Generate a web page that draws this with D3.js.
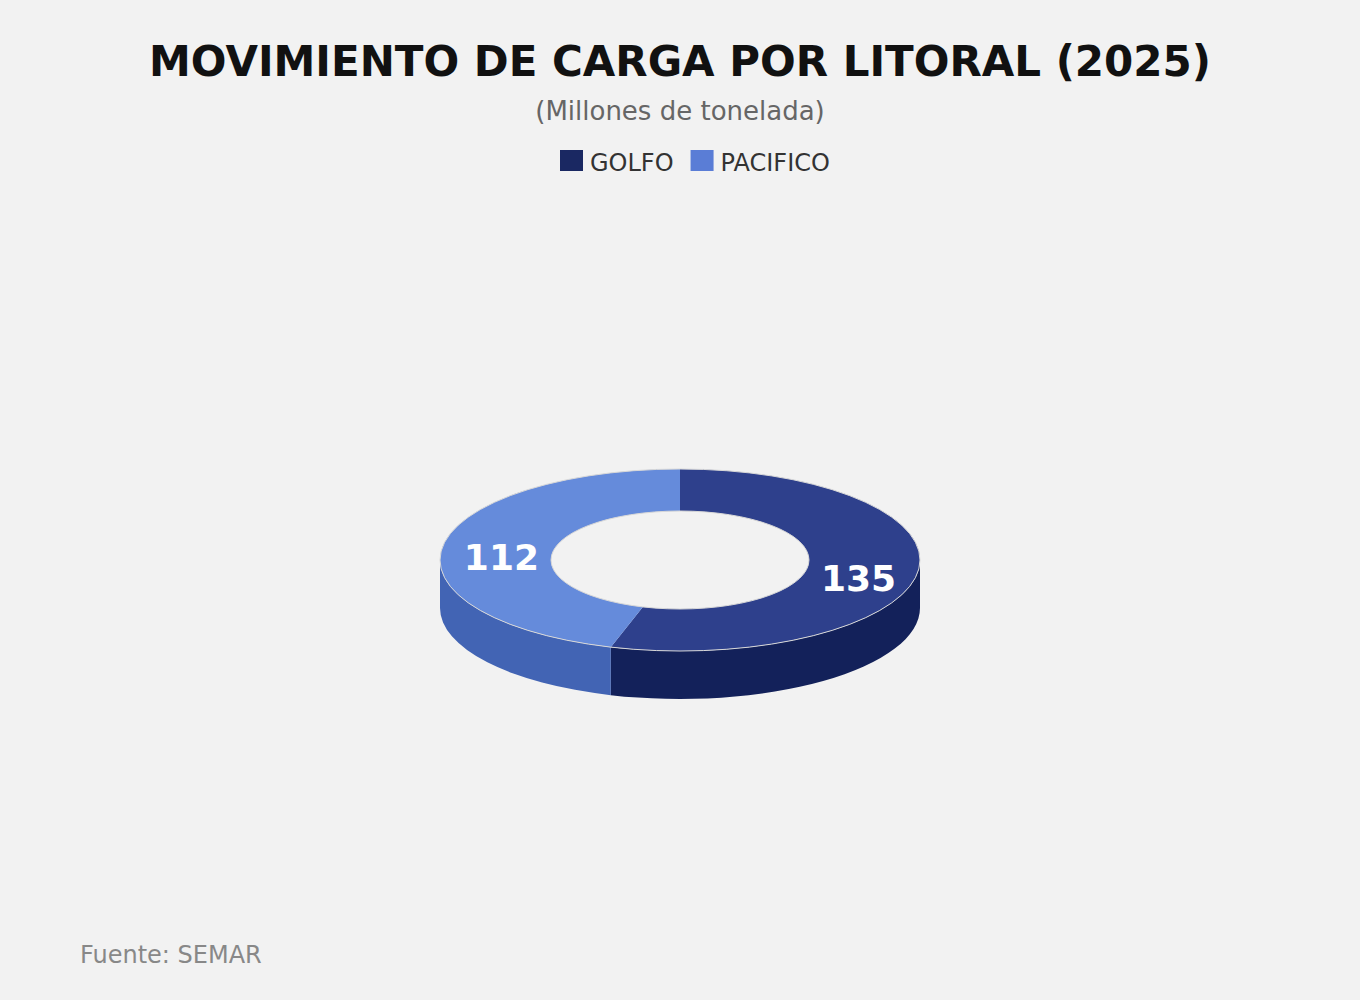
<!DOCTYPE html>
<html>
  <head>
    <meta charset="utf-8">
    <title>Movimiento de carga por litoral</title>
    <script src="https://d3js.org/d3.v7.min.js"></script>
    <style>
      body { margin: 0; background: #f2f2f2; }
      text { font-family: "DejaVu Sans", sans-serif; }
    </style>
  </head>
  <body>
    <div id="chart"></div>
    <script>
    // data
    var categories = ["GOLFO", "PACIFICO"]
    var values = [135, 112]
    var legendColors = ["#1a2862", "#5a7dd6"]
    var topColors = ["#2e408c", "#658bdb"]
    var sideColors = ["#13215a", "#4264b4"]

    var width = 1360, height = 1000
    var cx = 680, cy = 560
    var rx = 240, ry = 91      // outer ellipse of the top face
    var irx = 129, iry = 49    // inner hole
    var depth = 48

    var svg = d3.select("#chart").append("svg")
        .attr("width", width)
        .attr("height", height)

    svg.append("rect").attr("width", width).attr("height", height).attr("fill", "#f2f2f2")

    // titles
    svg.append("text")
        .attr("x", width / 2).attr("y", 76)
        .attr("text-anchor", "middle")
        .style("font-size", "42px").style("font-weight", "bold")
        .attr("fill", "#111")
        .text("MOVIMIENTO DE CARGA POR LITORAL (2025)")

    svg.append("text")
        .attr("x", width / 2).attr("y", 120)
        .attr("text-anchor", "middle")
        .style("font-size", "26px")
        .attr("fill", "#666")
        .text("(Millones de tonelada)")

    // legend
    var legend = svg.append("g").attr("transform", "translate(560,150)")
    var lx = 0
    categories.forEach(function(c, i) {
        var g = legend.append("g").attr("transform", "translate(" + lx + ",0)")
        g.append("rect").attr("width", 23).attr("height", 21).attr("fill", legendColors[i])
        var t = g.append("text").attr("x", 30).attr("y", 21)
            .style("font-size", "24px").attr("fill", "#333").text(c)
        lx += 30 + t.node().getComputedTextLength() + 17
    })

    // 3d donut
    var pie = d3.pie().sort(null)
    var arcs = pie(values)

    function pt(a, rX, rY, dy) {
        return [cx + rX * Math.sin(a), cy - rY * Math.cos(a) + (dy || 0)]
    }

    var chartG = svg.append("g")

    // outer side walls (front half only: 90deg..270deg)
    arcs.forEach(function(d, i) {
        var b0 = Math.max(d.startAngle, Math.PI / 2)
        var b1 = Math.min(d.endAngle, 3 * Math.PI / 2)
        if (b1 <= b0) return
        var p0 = pt(b0, rx, ry), p1 = pt(b1, rx, ry)
        var q1 = pt(b1, rx, ry, depth), q0 = pt(b0, rx, ry, depth)
        var path = "M" + p0 + " A" + rx + "," + ry + " 0 0 1 " + p1 +
            " L" + q1 + " A" + rx + "," + ry + " 0 0 0 " + q0 + " Z"
        chartG.append("path").attr("d", path).attr("fill", sideColors[i])
    })

    // top faces
    arcs.forEach(function(d, i) {
        var large = (d.endAngle - d.startAngle) > Math.PI ? 1 : 0
        var p0 = pt(d.startAngle, rx, ry), p1 = pt(d.endAngle, rx, ry)
        var q1 = pt(d.endAngle, irx, iry), q0 = pt(d.startAngle, irx, iry)
        var path = "M" + p0 + " A" + rx + "," + ry + " 0 " + large + " 1 " + p1 +
            " L" + q1 + " A" + irx + "," + iry + " 0 " + large + " 0 " + q0 + " Z"
        chartG.append("path").attr("d", path).attr("fill", topColors[i])
    })

    // thin edge outlines
    chartG.append("ellipse").attr("cx", cx).attr("cy", cy).attr("rx", rx).attr("ry", ry)
        .attr("fill", "none").attr("stroke", "#d8d8d8").attr("stroke-width", 1)
    chartG.append("ellipse").attr("cx", cx).attr("cy", cy).attr("rx", irx).attr("ry", iry)
        .attr("fill", "none").attr("stroke", "#d8d8d8").attr("stroke-width", 1)

    // labels
    arcs.forEach(function(d) {
        var mid = (d.startAngle + d.endAngle) / 2
        var r = (rx + irx) / 2 - 4, rr = (ry + iry) / 2
        var p = pt(mid, r, rr, 8)
        chartG.append("text")
            .attr("x", p[0]).attr("y", p[1])
            .attr("text-anchor", "middle")
            .attr("dominant-baseline", "central")
            .style("font-size", "36px").style("font-weight", "bold")
            .attr("fill", "#fff")
            .text(d.data)
    })

    // source
    svg.append("text")
        .attr("x", 80).attr("y", 963)
        .style("font-size", "24px")
        .attr("fill", "#888")
        .text("Fuente: SEMAR")
    </script>
  </body>
</html>
